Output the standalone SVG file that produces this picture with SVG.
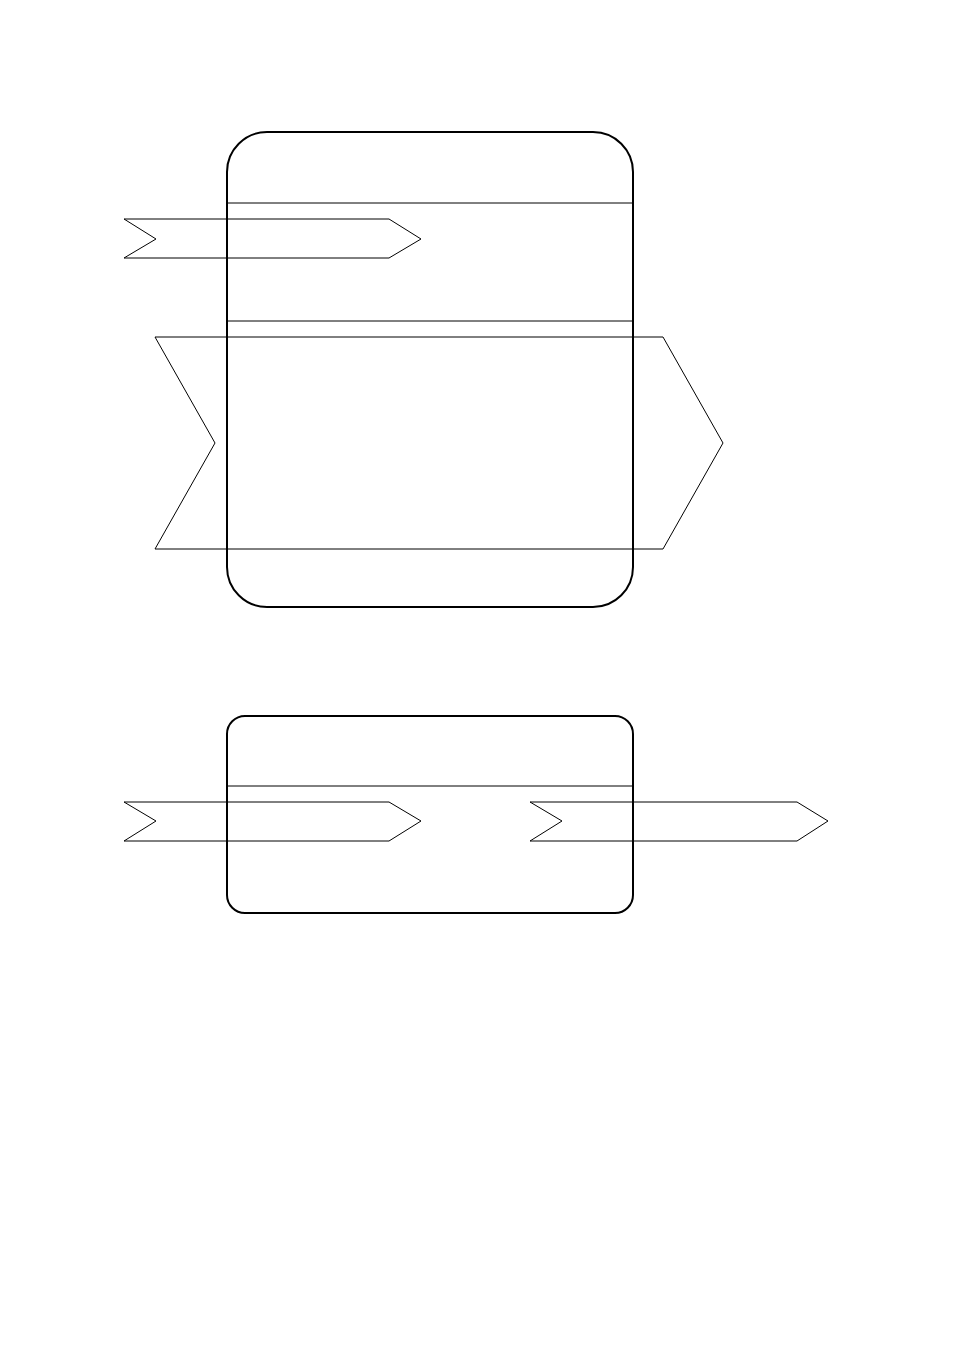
<svg xmlns="http://www.w3.org/2000/svg" width="954" height="1350" viewBox="0 0 954 1350">
<style>
.box{fill:none;stroke:#000;stroke-width:2}
.div{stroke:#000;stroke-width:1}
.arr{fill:none;stroke:#000;stroke-width:1}
</style>
<rect width="954" height="1350" fill="#fff"/>
<g id="node1">
<rect class="box" x="227" y="132" width="406" height="475" rx="40" ry="40"/>
<line class="div" x1="227" y1="203" x2="633" y2="203"/>
<line class="div" x1="227" y1="321" x2="633" y2="321"/>
</g>
<g id="node2">
<rect class="box" x="227" y="716" width="406" height="197" rx="18" ry="18"/>
<line class="div" x1="227" y1="786" x2="633" y2="786"/>
</g>
<g id="connectors">
<polygon class="arr" points="124,219 389,219 421,239 389,258 124,258 156,239"/>
<polygon class="arr" points="155,337 663,337 723,443 663,549 155,549 215,443"/>
<polygon class="arr" points="124,802 389,802 421,821 389,841 124,841 156,821"/>
<polygon class="arr" points="530,802 797,802 828,821 797,841 530,841 562,821"/>
</g>
</svg>
